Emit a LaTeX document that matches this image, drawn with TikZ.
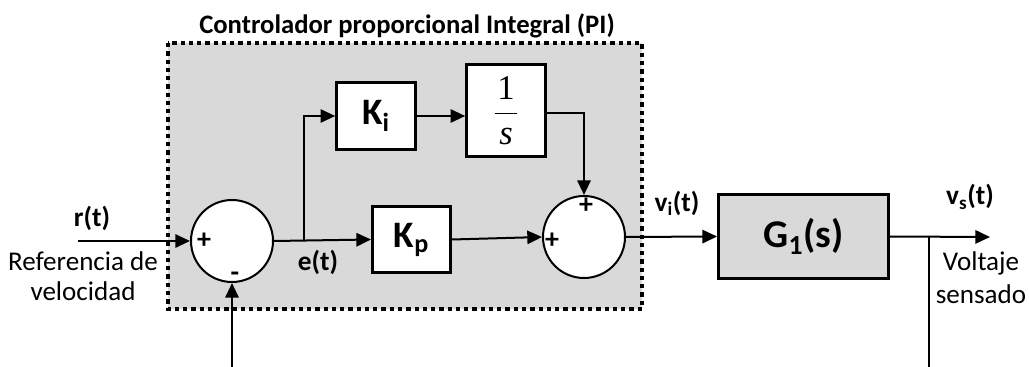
\documentclass[tikz,border=0pt]{standalone}
\usepackage{amsmath}
\usepackage{fontspec}
\setmainfont{Carlito}
\newfontfamily\timesface{Liberation Serif}
\usetikzlibrary{arrows.meta}

\begin{document}
\begin{tikzpicture}[x=0.75pt,y=-0.75pt,
        blk/.style={draw,line width=2.2pt,fill=white,inner sep=0pt},
        sumnode/.style={circle,draw,line width=1.5pt,fill=white,minimum size=61.5pt,inner sep=0pt},
        sig/.style={line width=1.5pt,-{Triangle[length=11pt,width=10pt]}},
        wire/.style={line width=1.5pt},
        lbl/.style={font=\fontsize{20.5}{24}\selectfont\bfseries},
        txt/.style={font=\fontsize{20.3}{22.5}\selectfont,align=center},
        sgn/.style={font=\fontsize{21}{21}\selectfont\bfseries,inner sep=0pt}]
    \useasboundingbox (0,0) rectangle (1029,367);
    % controller frame
    \draw [line width=3.2pt,dash pattern=on 3.2pt off 3pt,fill=gray!30] (168,43) rectangle (642,309);
    \node [font=\fontsize{20}{22}\selectfont\bfseries] (title) at (407,26) {Controlador proporcional Integral (PI)};
    % blocks
    \node [sumnode] (sum1) at (232,241) {};
    \node [sumnode] (sum2) at (584,237) {};
    \node [blk,minimum width=58.5pt,minimum height=50pt,font=\fontsize{28}{30}\selectfont\bfseries] (kp) at (411.5,239.5) {K\textsubscript{p}};
    \node [blk,minimum width=59pt,minimum height=50pt,font=\fontsize{28}{30}\selectfont\bfseries] (ki) at (376,116) {K\textsubscript{i}};
    \node [blk,minimum width=59pt,minimum height=69pt,font=\fontsize{26}{28}\selectfont\timesface] (inv) at (506,110.5) {$\displaystyle\frac{\makebox[17pt]{\text{1}}}{\text{\itshape s}}$};
    \node [blk,fill=gray!30,minimum width=127.5pt,minimum height=63pt,font=\fontsize{29.5}{31}\selectfont\bfseries] (g1) at (803.5,236.5) {G\textsubscript{1}(s)};
    % signs
    \node [sgn] (p1) at (204,241) {+};
    \node [sgn] (m1) at (235,277) {-};
    \node [sgn] (p2) at (552,241) {+};
    \node [sgn] (p3) at (586,206) {+};
    % free ends
    \coordinate (rin) at (78,241);
    \coordinate (fb) at (232,367);
    \coordinate (br) at (304,240);
    \coordinate (out) at (990,237);
    \coordinate (tap) at (929,237);
    \coordinate (tapend) at (929,367);
    % connectors
    \draw [sig] (rin) -- (sum1.west);
    \draw [sig] (fb) -- (sum1.south);
    \draw [sig] (sum1.east) -- (kp.west);
    \draw [sig] (br) |- (ki.west);
    \draw [sig] (ki.east) -- (ki.east -| inv.west);
    \draw [sig] (inv.east |- 0,113) -| (sum2.north);
    \draw [sig] (kp.east) -- (sum2.west);
    \draw [sig] (sum2.east) -- (g1.west);
    \draw [sig] (g1.east) -- (out);
    \draw [wire] (tap) -- (tapend);
    % labels
    \node [lbl] (rlbl) at (92,218) {r(t)};
    \node [txt] (rtxt) at (83,276) {Referencia de\\velocidad};
    \node [lbl] (elbl) at (318,262) {e(t)};
    \node [lbl] (vilbl) at (677,203) {v\textsubscript{i}(t)};
    \node [lbl] (vslbl) at (970,197) {v\textsubscript{s}(t)};
    \node [txt,font=\fontsize{20.3}{24.5}\selectfont] (vstxt) at (981,278) {Voltaje\\sensado};
\end{tikzpicture}
\end{document}
